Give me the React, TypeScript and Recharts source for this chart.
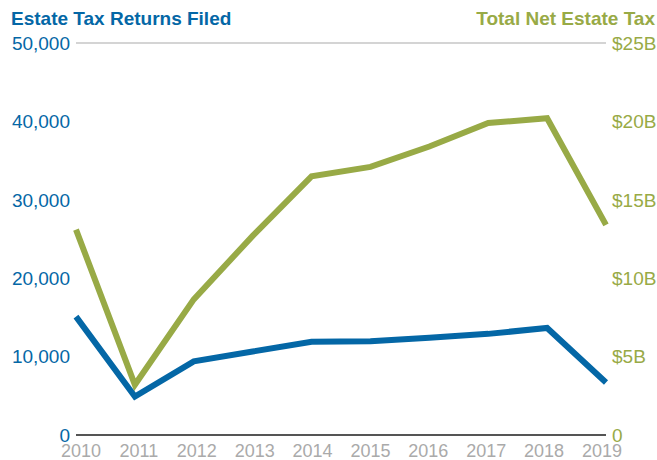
import React from 'react';
import { LineChart, Line, XAxis, YAxis, CartesianGrid } from 'recharts';

const years = ['2010', '2011', '2012', '2013', '2014', '2015', '2016', '2017', '2018', '2019'];
const returnsFiled = [15100, 4900, 9400, 10650, 11900, 11950, 12400, 12900, 13650, 6700];
const netEstateTax = [13.1, 3.2, 8.65, 12.7, 16.5, 17.1, 18.4, 19.9, 20.2, 13.4];
const leftTicks = [0, 10000, 20000, 30000, 40000, 50000];
const rightTicks = [0, 5, 10, 15, 20, 25];

const data = years.map((year, i) => ({
  year,
  returns: returnsFiled[i],
  tax: netEstateTax[i],
}));

const BLUE = '#0467a6';
const GREEN = '#98aa46';
const FONT = '"Liberation Sans", Arial, sans-serif';

// year labels sit slightly inside the first/last points in the original
const YearTick = (props: any) => {
  const { x, y, payload, index } = props;
  return (
    <text x={x + 5 - index} y={y} dy="0.71em" textAnchor="middle" fill="#aaaaaa" fontSize={18} fontFamily={FONT}>
      {payload.value}
    </text>
  );
};

export default function App() {
  return (
    <div style={{ position: 'absolute', left: 0, top: 0, width: 657, height: 460, fontFamily: FONT }}>
      <div style={{ position: 'absolute', left: 11, top: 8, fontSize: 19, fontWeight: 'bold', color: BLUE, whiteSpace: 'nowrap' }}>
        Estate Tax Returns Filed
      </div>
      <div style={{ position: 'absolute', right: 2, top: 8, fontSize: 19, fontWeight: 'bold', color: GREEN, whiteSpace: 'nowrap' }}>
        Total Net Estate Tax
      </div>
      <LineChart width={657} height={460} data={data} margin={{ top: 43, right: 0, bottom: 0, left: 0 }} style={{ fontFamily: FONT }}>
        <CartesianGrid vertical={false} stroke="#c6c6c6" strokeWidth={1.5} />
        <XAxis
          dataKey="year"
          height={25}
          padding={{ left: 0, right: 0 }}
          axisLine={{ stroke: '#555555', strokeWidth: 2 }}
          tickLine={false}
          tickSize={0}
          tickMargin={9}
          interval={0}
          tick={<YearTick />}
        />
        <YAxis
          yAxisId="left"
          width={76}
          domain={[0, 50000]}
          ticks={leftTicks}
          axisLine={false}
          tickLine={false}
          tickSize={0}
          tickMargin={6}
          tickFormatter={(v: number) => v.toLocaleString('en-US')}
          tick={{ fill: BLUE, fontSize: 19 }}
        />
        <YAxis
          yAxisId="right"
          orientation="right"
          width={51}
          domain={[0, 25]}
          ticks={rightTicks}
          axisLine={false}
          tickLine={false}
          tickSize={0}
          tickMargin={6}
          tickFormatter={(v: number) => (v === 0 ? '0' : `$${v}B`)}
          tick={{ fill: GREEN, fontSize: 19 }}
        />
        <Line yAxisId="right" type="linear" dataKey="tax" stroke={GREEN} strokeWidth={6} dot={false} activeDot={false} isAnimationActive={false} />
        <Line yAxisId="left" type="linear" dataKey="returns" stroke={BLUE} strokeWidth={6} dot={false} activeDot={false} isAnimationActive={false} />
      </LineChart>
    </div>
  );
}
